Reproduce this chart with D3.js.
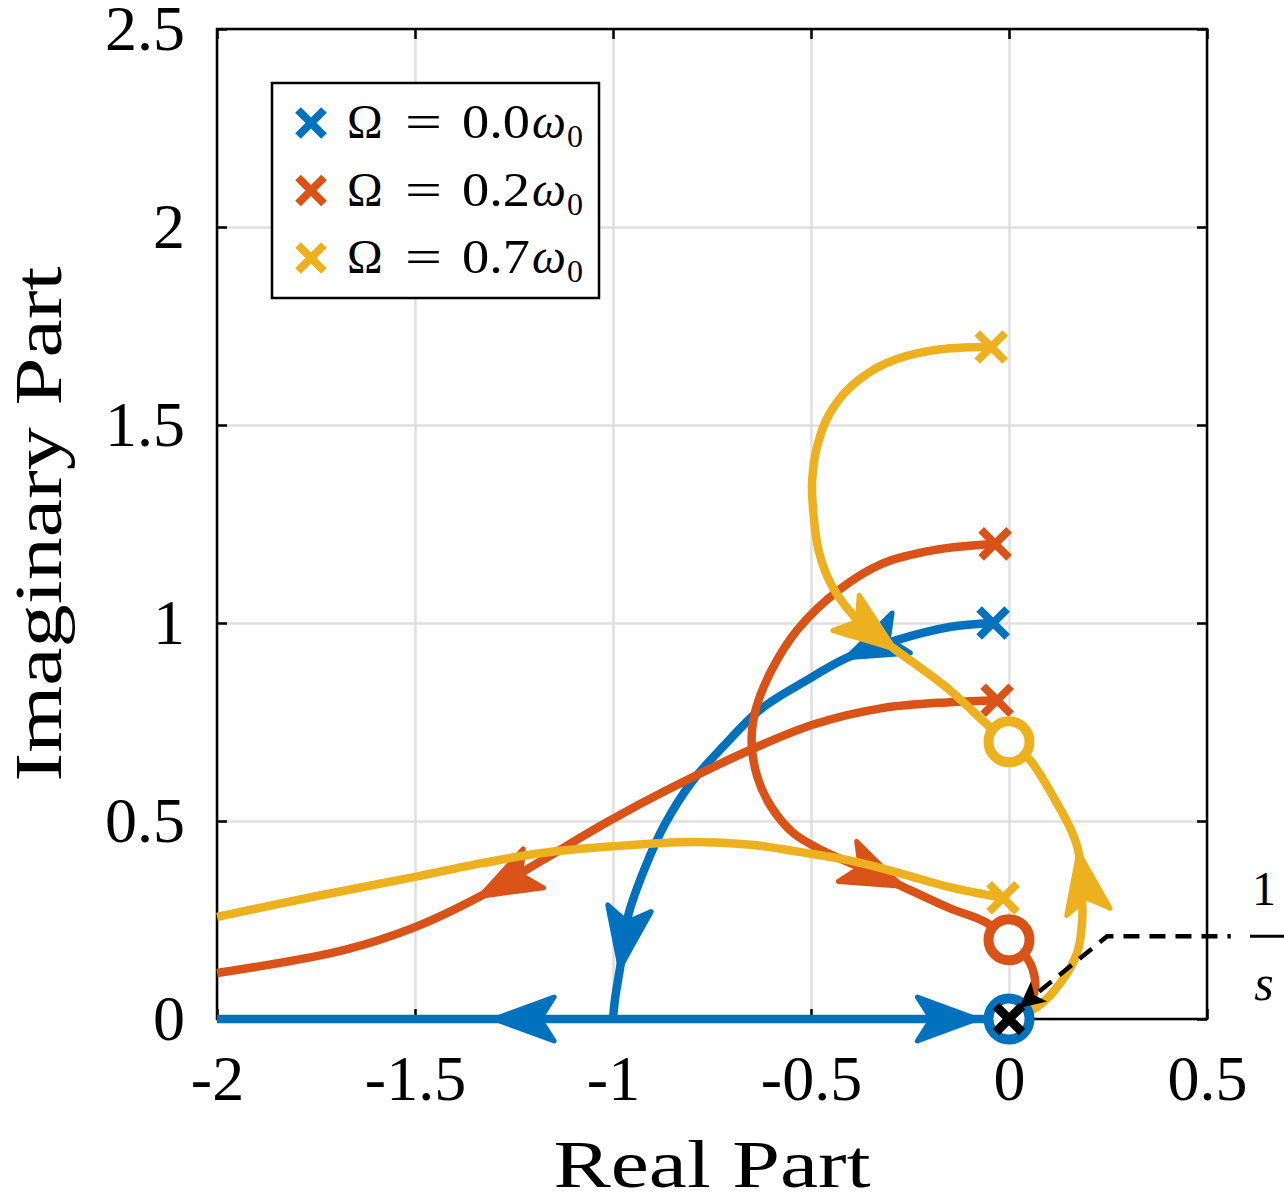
<!DOCTYPE html>
<html>
  <head>
    <meta charset="utf-8">
    <script src="https://cdn.jsdelivr.net/npm/d3@7"></script>
    <style type="text/css">
      body { margin: 0; background: #fff; }
      text { font-family: "Liberation Serif", "Times New Roman", serif; fill: #000; }
      .grid line { stroke: #dfdfdf; stroke-width: 2.5; }
      .grid path { display: none; }
      .axis path { display: none; }
      .axis line { stroke: #000; stroke-width: 2.5; }
      .axis text { font-size: 64px; }
      .locus { fill: none; stroke-width: 8.5; stroke-linejoin: round; }
    </style>
  </head>
  <body>
    <svg id="chart" width="1284" height="1203"></svg>
    <script>

      // axis ticks
      var xTicks = [-2, -1.5, -1, -0.5, 0, 0.5];
      var xTickLabels = ["-2", "-1.5", "-1", "-0.5", "0", "0.5"];
      var yTicks = [0, 0.5, 1, 1.5, 2, 2.5];
      var yTickLabels = ["0", "0.5", "1", "1.5", "2", "2.5"];

      // series: rotation speed
      var omegaLabels = ["0.0", "0.2", "0.7"];
      var colors = ["#0072BD", "#D95319", "#EDB120"];

      // root locus branches [re, im]
      var blueArc = [[-0.04,1.0],[-0.15,0.99],[-0.29,0.955],[-0.41,0.912],[-0.52,0.85],[-0.63,0.78],[-0.72,0.69],[-0.80,0.60],[-0.87,0.49],[-0.92,0.38],[-0.962,0.26],[-0.982,0.13],[-0.995,0.05],[-1.0,0.0]];
      var blueLeft = [[-1.0,0.0],[-1.30,0.0],[-2.0,0.0]];
      var blueRight = [[-1.0,0.0],[-0.08,0.0],[0.0,0.0]];

      var orangeUpper = [[-0.035,1.2],[-0.19,1.184],[-0.32,1.15],[-0.43,1.083],[-0.535,0.982],[-0.60,0.88],[-0.64,0.78],[-0.65,0.70],[-0.635,0.61],[-0.60,0.535],[-0.545,0.47],[-0.47,0.425],[-0.38,0.385],[-0.27,0.335],[-0.15,0.28],[-0.06,0.245],[0.0,0.2]];
      var orangeLower = [[-0.03,0.805],[-0.15,0.80],[-0.32,0.785],[-0.49,0.745],[-0.63,0.69],[-0.86,0.58],[-1.01,0.50],[-1.18,0.40],[-1.335,0.31],[-1.50,0.232],[-1.68,0.174],[-2.0,0.116]];
      var orangeOrigin = [[0.0,0.0],[0.045,0.03],[0.066,0.08],[0.06,0.125],[0.045,0.155],[0.022,0.18],[0.0,0.2]];

      var yellowUpper = [[-0.045,1.697],[-0.19,1.689],[-0.31,1.656],[-0.40,1.596],[-0.455,1.525],[-0.485,1.444],[-0.497,1.36],[-0.495,1.29],[-0.48,1.18],[-0.445,1.09],[-0.37,0.995],[-0.29,0.935],[-0.15,0.831],[-0.048,0.737],[0.0,0.70]];
      var yellowLower = [[-0.015,0.306],[-0.15,0.333],[-0.275,0.368],[-0.40,0.40],[-0.53,0.422],[-0.65,0.44],[-0.80,0.447],[-1.0,0.436],[-1.18,0.419],[-1.35,0.39],[-1.50,0.359],[-1.76,0.308],[-2.0,0.258]];
      var yellowOrigin = [[0.0,0.0],[0.07,0.03],[0.129,0.09],[0.172,0.167],[0.185,0.25],[0.183,0.33],[0.176,0.42],[0.16,0.47],[0.121,0.545],[0.053,0.654],[0.0,0.70]];

      // series index, branch, indices of points carrying an arrow tip
      var branches = [
        {s: 0, pts: blueArc, arrows: [3, 11]},
        {s: 0, pts: blueLeft, arrows: [1]},
        {s: 0, pts: blueRight, arrows: [1]},
        {s: 1, pts: orangeUpper, arrows: [13]},
        {s: 1, pts: orangeLower, arrows: [8]},
        {s: 1, pts: orangeOrigin, arrows: []},
        {s: 2, pts: yellowUpper, arrows: [11]},
        {s: 2, pts: yellowLower, arrows: []},
        {s: 2, pts: yellowOrigin, arrows: [6]}
      ];

      // open-loop poles (x) and zeros (o): [series, re, im]
      var poles = [[0,-0.04,1.0],[1,-0.035,1.2],[1,-0.03,0.805],[2,-0.045,1.697],[2,-0.015,0.306]];
      var zeros = [[0,0.0,0.0],[1,0.0,0.2],[2,0.0,0.7]];
      var integratorPole = [0.0, 0.0];

      // annotation pointing at the 1/s pole
      var annotation = [[0.025,0.028],[0.248,0.209],[0.56,0.209]];

      var margin = {top: 29, right: 77, bottom: 184, left: 217};
      var width = 1284, height = 1203;
      var w = width - margin.left - margin.right;
      var h = height - margin.top - margin.bottom;

      var xScale = d3.scaleLinear().domain([-2, 0.5]).range([margin.left, margin.left + w]);
      var yScale = d3.scaleLinear().domain([0, 2.5]).range([margin.top + h, margin.top]);

      var svg = d3.select("#chart");

      // grid
      svg.append("g").attr("class", "grid")
        .attr("transform", "translate(0," + (margin.top + h) + ")")
        .call(d3.axisBottom(xScale).tickValues(xTicks).tickSize(-h).tickFormat(""));
      svg.append("g").attr("class", "grid")
        .attr("transform", "translate(" + margin.left + ",0)")
        .call(d3.axisLeft(yScale).tickValues(yTicks).tickSize(-w).tickFormat(""));

      // box
      svg.append("rect")
        .attr("x", margin.left).attr("y", margin.top)
        .attr("width", w).attr("height", h)
        .attr("fill", "none").attr("stroke", "#000").attr("stroke-width", 2.5);

      // axes, ticks inward
      svg.append("g").attr("class", "axis")
        .attr("transform", "translate(0," + (margin.top + h) + ")")
        .call(d3.axisBottom(xScale).tickValues(xTicks).tickSizeInner(-10).tickSizeOuter(0).tickPadding(36)
          .tickFormat(function(d, i) { return xTickLabels[i]; }));
      svg.append("g").attr("class", "axis")
        .attr("transform", "translate(" + margin.left + ",0)")
        .call(d3.axisLeft(yScale).tickValues(yTicks).tickSizeInner(-10).tickSizeOuter(0).tickPadding(32)
          .tickFormat(function(d, i) { return yTickLabels[i]; }));
      svg.append("g").attr("class", "axis")
        .attr("transform", "translate(0," + margin.top + ")")
        .call(d3.axisTop(xScale).tickValues(xTicks).tickSizeInner(-10).tickSizeOuter(0).tickFormat(""));
      svg.append("g").attr("class", "axis")
        .attr("transform", "translate(" + (margin.left + w) + ",0)")
        .call(d3.axisRight(yScale).tickValues(yTicks).tickSizeInner(-10).tickSizeOuter(0).tickFormat(""));
      svg.selectAll(".axis text").attr("fill", "#000");

      // axis labels
      svg.append("text")
        .attr("x", margin.left + w / 2).attr("y", 1187)
        .attr("text-anchor", "middle")
        .attr("font-size", 68)
        .attr("textLength", 317)
        .attr("lengthAdjust", "spacingAndGlyphs")
        .text("Real Part");
      svg.append("text")
        .attr("transform", "translate(61," + (margin.top + h / 2) + ") rotate(-90)")
        .attr("text-anchor", "middle")
        .attr("font-size", 68)
        .attr("textLength", 515)
        .attr("lengthAdjust", "spacingAndGlyphs")
        .text("Imaginary Part");

      var line = d3.line()
        .x(function(d) { return xScale(d[0]); })
        .y(function(d) { return yScale(d[1]); })
        .curve(d3.curveCatmullRom.alpha(0.5));

      function arrowShape(L, W, N) {
        return "M0,0 L" + (-L) + "," + (-W) + " L" + (-(L - N)) + ",0 L" + (-L) + "," + W + " Z";
      }

      function xMark(g, cx, cy, r, color, sw) {
        g.append("path")
          .attr("d", "M" + (cx - r) + "," + (cy - r) + " L" + (cx + r) + "," + (cy + r) +
                     " M" + (cx - r) + "," + (cy + r) + " L" + (cx + r) + "," + (cy - r))
          .attr("stroke", color).attr("stroke-width", sw).attr("fill", "none");
      }

      var plot = svg.append("g");

      [0, 1, 2].forEach(function(s) {
        var series = branches.filter(function(b) { return b.s === s; });
        series.forEach(function(b) {
          plot.append("path")
            .attr("class", "locus")
            .attr("stroke", colors[s])
            .attr("d", line(b.pts));
        });
        series.forEach(function(b) {
          b.arrows.forEach(function(i) {
            var p = b.pts;
            var a = p[Math.max(i - 1, 0)], c = p[Math.min(i + 1, p.length - 1)];
            var ang = Math.atan2(yScale(c[1]) - yScale(a[1]), xScale(c[0]) - xScale(a[0])) * 180 / Math.PI;
            plot.append("path")
              .attr("d", arrowShape(60, 22, 14))
              .attr("transform", "translate(" + xScale(p[i][0]) + "," + yScale(p[i][1]) + ") rotate(" + ang + ")")
              .attr("fill", colors[s])
              .attr("stroke", colors[s])
              .attr("stroke-width", 5)
              .attr("stroke-linejoin", "round");
          });
        });
        poles.filter(function(p) { return p[0] === s; }).forEach(function(p) {
          xMark(plot, xScale(p[1]), yScale(p[2]), 14, colors[s], 8);
        });
      });

      // zeros
      plot.selectAll(".zero")
        .data(zeros).enter()
        .append("circle")
        .attr("class", "zero")
        .attr("cx", function(d) { return xScale(d[1]); })
        .attr("cy", function(d) { return yScale(d[2]); })
        .attr("r", 20.5)
        .attr("fill", "#fff")
        .attr("stroke", function(d) { return colors[d[0]]; })
        .attr("stroke-width", 10);

      // integrator pole
      xMark(plot, xScale(integratorPole[0]), yScale(integratorPole[1]), 13, "#000", 9);

      // annotation 1/s
      var ann = svg.append("g");
      ann.append("path")
        .attr("d", d3.line().x(function(d) { return xScale(d[0]); }).y(function(d) { return yScale(d[1]); })(annotation))
        .attr("fill", "none").attr("stroke", "#000")
        .attr("stroke-width", 4.5).attr("stroke-dasharray", "16,10");
      var a0 = annotation[0], a1 = annotation[1];
      var angA = Math.atan2(yScale(a0[1]) - yScale(a1[1]), xScale(a0[0]) - xScale(a1[0])) * 180 / Math.PI;
      ann.append("path")
        .attr("d", arrowShape(26, 13, 6))
        .attr("transform", "translate(" + xScale(a0[0]) + "," + yScale(a0[1]) + ") rotate(" + angA + ")")
        .attr("fill", "#000");
      var fx = 1264, fy = yScale(annotation[2][1]);
      ann.append("line")
        .attr("x1", fx - 14).attr("x2", fx + 30)
        .attr("y1", fy).attr("y2", fy)
        .attr("stroke", "#000").attr("stroke-width", 3);
      ann.append("text")
        .attr("x", fx).attr("y", fy - 31)
        .attr("text-anchor", "middle").attr("font-size", 48)
        .text("1");
      ann.append("text")
        .attr("x", fx).attr("y", fy + 64)
        .attr("text-anchor", "middle").attr("font-size", 50).attr("font-style", "italic")
        .text("s");

      // legend
      var legend = svg.append("g").attr("transform", "translate(272,83)");
      legend.append("rect")
        .attr("width", 327).attr("height", 215)
        .attr("fill", "#fff").attr("stroke", "#000").attr("stroke-width", 2.5);
      omegaLabels.forEach(function(lab, i) {
        var cy = 40 + i * 67.5;
        xMark(legend, 39, cy, 13, colors[i], 8);
        var t = legend.append("text")
          .attr("y", cy + 15)
          .attr("font-size", 48);
        t.append("tspan").attr("x", 75).text("\u03A9");
        t.append("tspan").attr("x", 133).attr("textLength", 37).attr("lengthAdjust", "spacingAndGlyphs").text("=");
        t.append("tspan").attr("x", 190).attr("textLength", 68).attr("lengthAdjust", "spacingAndGlyphs").text(lab);
        t.append("tspan").attr("x", 260).attr("font-style", "italic").text("\u03C9");
        t.append("tspan").attr("x", 295).attr("font-size", 32).attr("dy", 9).text("0");
      });

    </script>
  </body>
</html>
